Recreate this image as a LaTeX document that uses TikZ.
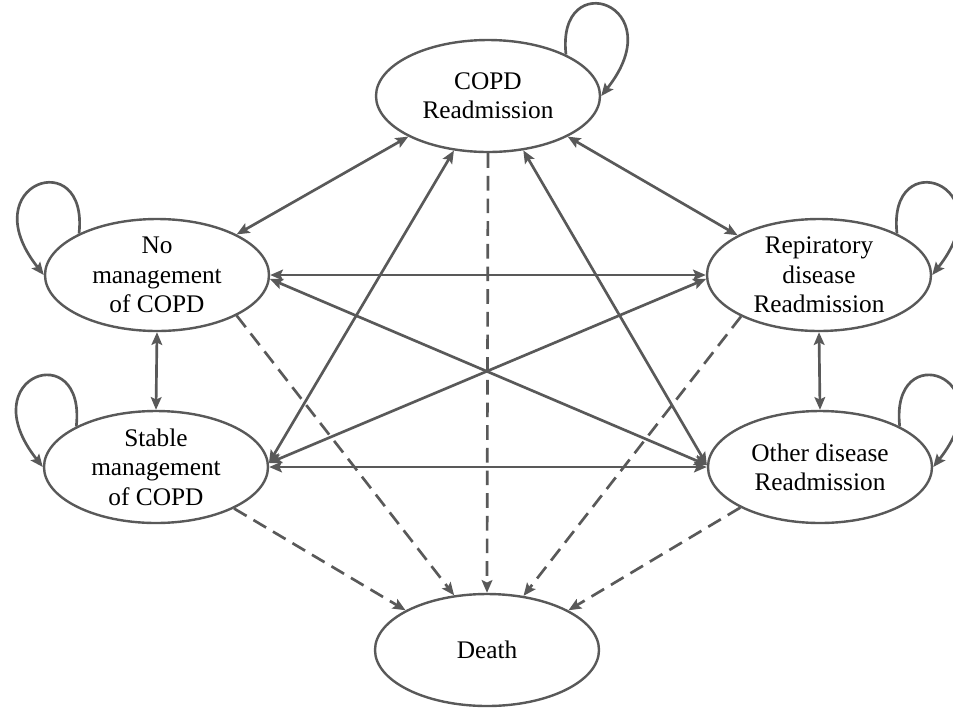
\documentclass[tikz,border=0pt]{standalone}
\usepackage{fontspec}
\setmainfont{Liberation Serif}
\usetikzlibrary{arrows.meta,shapes.geometric}
\definecolor{edgegray}{HTML}{595959}
\begin{document}
\begin{tikzpicture}[x=0.75pt,y=-0.75pt,
  stnode/.style={ellipse,draw=edgegray,line width=1.8pt,minimum width=168pt,minimum height=84pt,inner sep=0pt,fill=white},
  lbl/.style={align=center,font=\fontsize{19}{22}\selectfont,text=black,inner sep=0pt},
  tip/.tip={Stealth[length=9.5pt,width=8pt,inset=1.8pt]},
  link/.style={draw=edgegray,line width=2pt,tip-tip},
  todeath/.style={draw=edgegray,line width=2pt,dash pattern=on 11pt off 6pt,-tip},
  selfloop/.style={draw=edgegray,line width=2pt,-tip}
]
\fill[white] (0,0) rectangle (953,708);
\useasboundingbox (0,0) rectangle (953,708);

\node[stnode] (cop) at (488,96) {};
\node[stnode] (nom) at (157,275) {};
\node[stnode] (rep) at (819,275) {};
\node[stnode] (stb) at (156,467) {};
\node[stnode] (oth) at (820,467) {};
\node[stnode] (dth) at (487,650) {};

\node[lbl] (copt) at (cop) {COPD\\Readmission};
\node[lbl] (nomt) at (nom) {No\\management\\of COPD};
\node[lbl] (rept) at (rep) {Repiratory\\disease\\Readmission};
\node[lbl] (stbt) at (stb) {Stable\\management\\of COPD};
\node[lbl] (otht) at (oth) {Other disease\\Readmission};
\node[lbl] (dtht) at (dth) {Death};

% self loops
\draw[selfloop] (cop.28) .. controls +(-10,-90) and +(73,-92) .. (cop.0);
\draw[selfloop] (nom.152) .. controls +(10,-90) and +(-73,-92) .. (nom.180);
\draw[selfloop] (rep.28) .. controls +(-10,-90) and +(73,-92) .. (rep.0);
\draw[selfloop] (stb.153) .. controls +(10,-90) and +(-73,-92) .. (stb.180);
\draw[selfloop] (oth.27) .. controls +(-10,-90) and +(73,-92) .. (oth.0);

% bidirectional transitions
\draw[link] (cop.207) -- (nom.27);
\draw[link] (cop.333) -- (rep.154);
\draw[link] (cop.238) -- (stb.2);
\draw[link] (cop.303) -- (oth.179);
\draw[link] (nom.0) -- (rep.180);
\draw[link] (nom.358) -- (oth.179);
\draw[link] (stb.2) -- (rep.182);
\draw[link] (stb.0) -- (oth.180);
\draw[link] (nom.south) -- (stb.north);
\draw[link] (rep.south) -- (oth.north);

% transitions to death
\draw[todeath] (cop.south) -- (dth.north);
\draw[todeath] (nom.333) -- (dth.121);
\draw[todeath] (stb.332) -- (dth.154);
\draw[todeath] (rep.208) -- (dth.56);
\draw[todeath] (oth.207) -- (dth.26);
\end{tikzpicture}
\end{document}
